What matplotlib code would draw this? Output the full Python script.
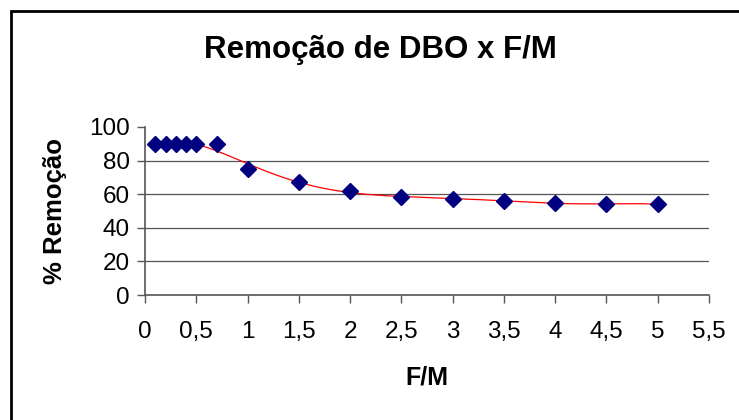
import matplotlib.pyplot as plt
import numpy as np
from matplotlib.patches import Rectangle

plt.rcParams['font.family'] = ['Liberation Sans', 'DejaVu Sans']

# F/M ratio and % BOD removal
fm = [0.1, 0.2, 0.3, 0.4, 0.5, 0.7, 1.0, 1.5, 2.0, 2.5, 3.0, 3.5, 4.0, 4.5, 5.0]
remocao = [90, 90, 90, 90, 90, 90, 75, 67, 62, 58.5, 57, 56, 55, 54, 54]

xticks = [0, 0.5, 1, 1.5, 2, 2.5, 3, 3.5, 4, 4.5, 5, 5.5]
xticklabels = ['0', '0,5', '1', '1,5', '2', '2,5', '3', '3,5', '4', '4,5', '5', '5,5']
yticks = [0, 20, 40, 60, 80, 100]

fig = plt.figure(figsize=(7.39, 4.20), dpi=100)
ax = fig.add_axes([145 / 739, 1 - 295 / 420, (709 - 145) / 739, (295 - 127) / 420])

# polynomial trendline (like excel's)
coef = np.polyfit(fm, remocao, 6)
xs = np.linspace(min(fm), max(fm), 200)
ax.plot(xs, np.polyval(coef, xs), color='red', lw=0.9, zorder=2)

ax.plot(fm, remocao, linestyle='none', marker='D', ms=8, color='#000080', zorder=3)

ax.set_xlim(0, 5.5)
ax.set_ylim(0, 100)
ax.set_xticks(xticks)
ax.set_xticklabels(xticklabels)
ax.set_yticks(yticks)
for v in yticks[1:-1]:
    ax.axhline(v, color='#555555', lw=0.9, zorder=1)

for s in ['top', 'right']:
    ax.spines[s].set_visible(False)
for s in ['left', 'bottom']:
    ax.spines[s].set_color('#555555')
    ax.spines[s].set_linewidth(1.2)
ax.tick_params(direction='out', length=6, width=1, color='#555555', labelsize=17.5)
ax.tick_params(axis='x', pad=13)
ax.tick_params(axis='y', pad=5)

ax.set_xlabel('F/M', fontsize=18, fontweight='bold', labelpad=16)
ax.set_ylabel('% Remoção', fontsize=18.5, fontweight='bold', labelpad=16)

fig.text(380 / 739, 1 - 58 / 420, 'Remoção de DBO x F/M', fontsize=22.5,
         fontweight='bold', ha='center', va='baseline')

# border around the whole chart area
fig.patches.append(Rectangle((11 / 739, -0.05), 1.0, 1 - 11 / 420 + 0.05,
                             transform=fig.transFigure, fill=False,
                             edgecolor='black', lw=2))

fig.savefig('out.png', dpi=100)
